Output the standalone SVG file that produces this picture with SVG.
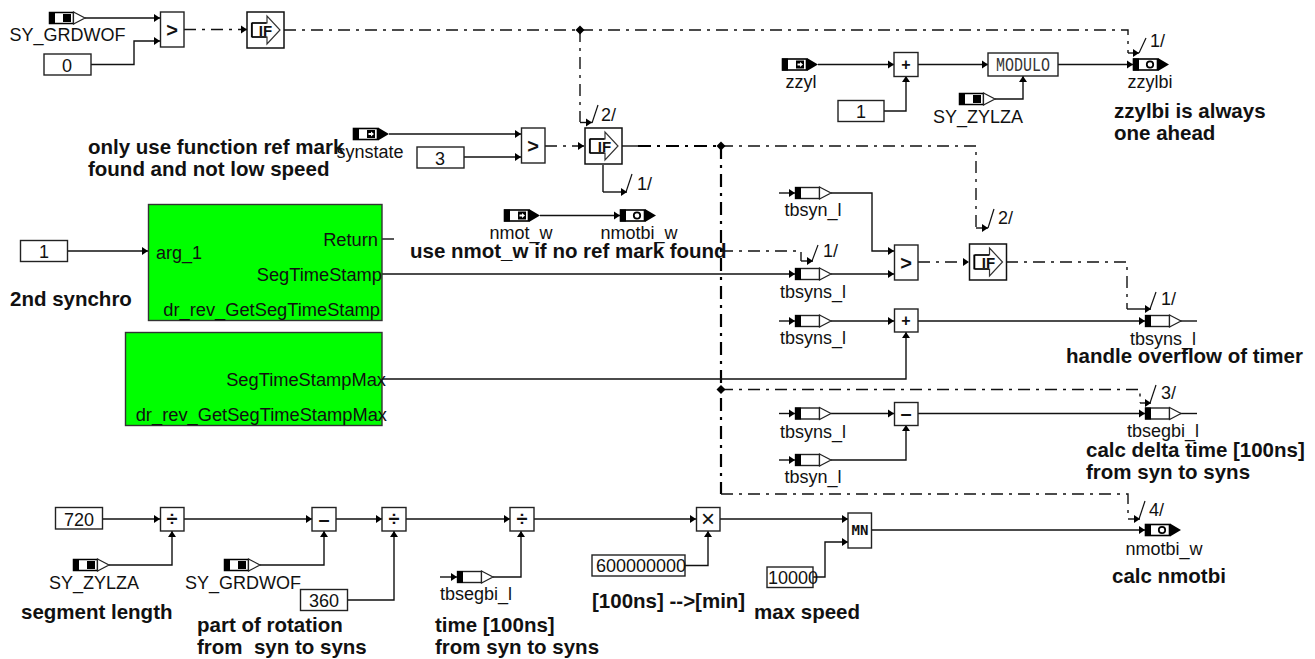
<svg xmlns="http://www.w3.org/2000/svg" width="1315" height="659" viewBox="0 0 1315 659">
<style>
text{font-family:"Liberation Sans",Arial,sans-serif;fill:#111}
.l{font-size:18px}
.c{font-size:18px;text-anchor:middle}
.r{font-size:18.3px;text-anchor:end}
.b{font-size:20.5px;font-weight:bold}
.op{font-size:20px;font-weight:bold;text-anchor:middle}
.pl{font-size:16px;font-weight:bold;text-anchor:middle}
.if{font-size:15px;font-weight:bold;text-anchor:middle}
.w{fill:none;stroke:#111;stroke-width:1.4}
.d{fill:none;stroke:#111;stroke-width:1.4;stroke-dasharray:12 6 3 6}
.t{fill:none;stroke:#000;stroke-width:2.2;stroke-dasharray:13 6 3 6}
.a{marker-end:url(#ah)}
.box{fill:#fff;stroke:#222;stroke-width:1.4}
.green{fill:#00ff00;stroke:#333;stroke-width:1.4}
.tick{fill:none;stroke:#111;stroke-width:1.2}
</style>
<defs>
<marker id="ah" markerUnits="userSpaceOnUse" markerWidth="7" markerHeight="9" refX="6" refY="4.5" orient="auto"><path d="M0,0.5 L6,4.5 L0,8.5z" fill="#000"/></marker>
<g id="cin"><rect x="0.5" y="-5.5" width="24" height="11" fill="#fff" stroke="#000" stroke-width="1.5"/><rect x="0" y="-6" width="6" height="12" fill="#000"/><rect x="14" y="-4" width="8" height="8" fill="#000"/><path d="M24.5,-6 L36,0 L24.5,6z" fill="#fff" stroke="#222" stroke-width="1.2"/></g>
<g id="vin"><rect x="0.5" y="-5.5" width="24" height="11" fill="#fff" stroke="#000" stroke-width="1.6"/><rect x="0" y="-6" width="6" height="12" fill="#000"/><rect x="14" y="-4" width="8" height="8" fill="#000"/><path d="M15.5,-1 L18,-1 L18,-2.5 L21,0 L18,2.5 L18,1 L15.5,1z" fill="#fff"/><path d="M25,-6.5 L36,0 L25,6.5z" fill="#000"/></g>
<g id="vout"><rect x="0.5" y="-5.5" width="24" height="11" fill="#fff" stroke="#000" stroke-width="1.6"/><rect x="0" y="-6" width="6" height="12" fill="#000"/><circle cx="17" cy="0" r="3.2" fill="#fff" stroke="#000" stroke-width="1.8"/><path d="M25,-6.5 L36,0 L25,6.5z" fill="#000"/></g>
<g id="sig"><rect x="0.5" y="-5.5" width="24" height="11" fill="#fff" stroke="#222" stroke-width="1.4"/><rect x="0" y="-6" width="6" height="12" fill="#000"/><path d="M24.5,-6 L36,0 L24.5,6z" fill="#fff" stroke="#222" stroke-width="1.2"/></g>
<g id="ifa"><rect x="0.5" y="0.5" width="37" height="36" fill="#fff" stroke="#111" stroke-width="1.5"/><path d="M5,11.5 L20.5,11.5 L20.5,4.5 L33.5,18.5 L20.5,32.5 L20.5,25.5 L5,25.5z" fill="#fff" stroke="#333" stroke-width="1.2"/><path d="M5.5,11.5 V25.5 M5.5,11.5 H20 M5.5,25.5 H20" fill="none" stroke="#000" stroke-width="1.6"/></g>
</defs>
<g id="connectors">
<path class="w a" d="M85,18 H160"/>
<path class="w a" d="M91,64.5 H134 V41 H160"/>
<path class="d a" d="M184,29.5 H247"/>
<path class="d" d="M284,30 H1128 V53"/>
<path class="w a" d="M1128,53 H1139"/>
<path class="tick" d="M1139,53 L1146,38"/>
<path class="d" d="M580,30 V122"/>
<path class="w a" d="M580,122.500 H592"/>
<path class="tick" d="M592,123 L598,105"/>
<path class="w a" d="M389,134 H521"/>
<path class="w a" d="M464,157 H521"/>
<path class="d a" d="M545,146 H584"/>
<path class="w" d="M622,146 H638"/>
<path class="t" d="M638,146 H721"/>
<path class="d" d="M721,146 H976 V228"/>
<path class="w a" d="M976,228 H988"/>
<path class="tick" d="M988,228 L994,209"/>
<path class="w" d="M603,165 V192"/>
<path class="w a" d="M603,192 H627"/>
<path class="tick" d="M626,192 L632,174"/>
<path class="t" d="M721,146 V494"/>
<path class="d" d="M721,251 H801 V261"/>
<path class="w a" d="M801,261 H813"/>
<path class="tick" d="M812,261 L818,245"/>
<path class="w a" d="M67,251 H148"/>
<path class="w" d="M382,239 H394"/>
<path class="w a" d="M382,274 H795"/>
<path class="w a" d="M779,193 H795"/>
<path class="w a" d="M831,193 H872 V251 H894"/>
<path class="w a" d="M831,274 H894"/>
<path class="d a" d="M918,262 H969"/>
<path class="d" d="M1006,262 H1127 V309"/>
<path class="w a" d="M1127,309 H1151"/>
<path class="tick" d="M1150,309 L1156,292"/>
<path class="w a" d="M779,321 H795"/>
<path class="w a" d="M831,321 H894"/>
<path class="w a" d="M918,321 H1145"/>
<path class="w" d="M1180,321 H1197"/>
<path class="w a" d="M382,379 H906 V332"/>
<path class="d" d="M721,389.500 H1140 V403"/>
<path class="w a" d="M1140,403 H1151"/>
<path class="tick" d="M1150,403 L1156,385"/>
<path class="w a" d="M779,413.500 H795"/>
<path class="w a" d="M831,413.500 H894"/>
<path class="w a" d="M779,460 H795"/>
<path class="w a" d="M831,460 H906 V425"/>
<path class="w a" d="M918,413.500 H1145"/>
<path class="w" d="M1180,413.500 H1197"/>
<path class="d" d="M721,494 H1128 V519"/>
<path class="w a" d="M1128,519 H1140"/>
<path class="tick" d="M1139,519 L1145,501"/>
<path class="w a" d="M872,530 H1145"/>
<path class="w a" d="M818,64.500 H894"/>
<path class="w a" d="M884,111 H906 V76"/>
<path class="w a" d="M918,64.500 H988"/>
<path class="w a" d="M1058,64.500 H1133"/>
<path class="w a" d="M995,99 H1023 V76"/>
<path class="w a" d="M540,215.500 H620"/>
<path class="w a" d="M102,519 H160"/>
<path class="w a" d="M109,565 H172 V531"/>
<path class="w a" d="M184,519 H312"/>
<path class="w a" d="M260,565 H324 V531"/>
<path class="w a" d="M336,519 H382"/>
<path class="w a" d="M347,600 H394 V531"/>
<path class="w a" d="M406,519 H510"/>
<path class="w a" d="M440,577 H457"/>
<path class="w a" d="M493,577 H521 V531"/>
<path class="w a" d="M534,519 H696"/>
<path class="w a" d="M685,565.500 H708 V531"/>
<path class="w a" d="M720,519 H848"/>
<path class="w a" d="M813,577 H825 V542 H848"/>
</g>
<g id="junctions" fill="#000">
<path d="M580,25.500 L584.500,30 L580,34.500 L575.500,30z"/>
<path d="M721,141.500 L725.500,146 L721,150.500 L716.500,146z"/>
<path d="M721,385 L725.500,389.500 L721,394 L716.500,389.500z"/>
</g>
<g id="in_SY_GRDWOF_1"><use href="#cin" x="49" y="18"/><text class="c" x="67.500" y="41">SY_GRDWOF</text></g>
<g id="const_0"><rect class="box" x="44" y="54" width="47" height="21"/><text class="c" x="67" y="72">0</text></g>
<g id="gt_1"><rect class="box" x="160.500" y="12" width="23.500" height="35"/><text class="op" x="172" y="37">&gt;</text></g>
<g id="if_1"><use href="#ifa" x="246.500" y="11.500"/><text class="if" x="265.500" y="36">IF</text></g>
<g id="in_zzyl"><use href="#vin" x="782" y="64.500"/><text class="c" x="801" y="88">zzyl</text></g>
<g id="const_1_a"><rect class="box" x="838" y="100.500" width="46" height="21"/><text class="c" x="861" y="118">1</text></g>
<g id="plus_1"><rect class="box" x="894" y="52.500" width="24" height="24"/><text class="pl" x="906" y="70">+</text></g>
<g id="modulo"><rect class="box" x="988" y="53" width="70" height="23"/><text transform="translate(1023,71) scale(1,1.35)" text-anchor="middle" style="font-family:'Liberation Mono',monospace;font-size:15px;fill:#333">MODULO</text></g>
<g id="in_SY_ZYLZA_1"><use href="#cin" x="959" y="99"/><text class="c" x="978" y="123">SY_ZYLZA</text></g>
<g id="out_zzylbi"><use href="#vout" x="1133" y="64.500"/><text class="c" x="1150" y="88">zzylbi</text><text class="l" x="1150" y="47">1/</text></g>
<g id="in_synstate"><use href="#vin" x="353" y="134"/><text class="c" x="370" y="158">synstate</text></g>
<g id="const_3"><rect class="box" x="417" y="147" width="47" height="21"/><text class="c" x="440" y="165">3</text></g>
<g id="gt_2"><rect class="box" x="521.500" y="128" width="23.500" height="35"/><text class="op" x="533" y="153">&gt;</text></g>
<g id="if_2"><use href="#ifa" x="584.500" y="127.500"/><text class="if" x="604.500" y="152">IF</text><text class="l" x="601" y="121">2/</text><text class="l" x="637" y="190">1/</text></g>
<g id="const_1_b"><rect class="box" x="20.500" y="240.500" width="47" height="21"/><text class="c" x="44" y="258">1</text></g>
<g id="dr_rev_GetSegTimeStamp"><rect class="green" x="148.500" y="204.500" width="233.500" height="116"/><text class="l" x="156" y="259">arg_1</text><text class="r" x="378" y="246">Return</text><text class="r" x="382" y="281">SegTimeStamp</text><text class="r" x="380" y="316">dr_rev_GetSegTimeStamp</text></g>
<g id="dr_rev_GetSegTimeStampMax"><rect class="green" x="125.500" y="332.500" width="256.500" height="93"/><text class="r" x="386" y="386">SegTimeStampMax</text><text class="r" x="387" y="421">dr_rev_GetSegTimeStampMax</text></g>
<g id="in_nmot_w"><use href="#vin" x="504" y="215.500"/><text class="c" x="521" y="239">nmot_w</text></g>
<g id="out_nmotbi_w_a"><use href="#vout" x="620" y="215.500"/><text class="c" x="639" y="239">nmotbi_w</text></g>
<g id="sig_tbsyn_l_a"><use href="#sig" x="795" y="193"/><text class="c" x="813" y="216">tbsyn_l</text></g>
<g id="sig_tbsyns_l_a"><use href="#sig" x="795" y="274"/><text class="c" x="813" y="298">tbsyns_l</text><text class="l" x="823" y="257">1/</text></g>
<g id="gt_3"><rect class="box" x="894.500" y="245" width="23.500" height="35"/><text class="op" x="906" y="270">&gt;</text></g>
<g id="if_3"><use href="#ifa" x="969" y="243.500"/><text class="if" x="988.500" y="268">IF</text><text class="l" x="998" y="224">2/</text></g>
<g id="sig_tbsyns_l_b"><use href="#sig" x="795" y="321"/><text class="c" x="813" y="344">tbsyns_l</text></g>
<g id="plus_2"><rect class="box" x="894.500" y="309" width="23.500" height="23"/><text class="pl" x="906" y="326">+</text></g>
<g id="sig_tbsyns_l_c"><use href="#sig" x="1145" y="321"/><text class="c" x="1163" y="345">tbsyns_l</text><text class="l" x="1161" y="305">1/</text></g>
<g id="sig_tbsyns_l_d"><use href="#sig" x="795" y="413.500"/><text class="c" x="813" y="438">tbsyns_l</text></g>
<g id="sig_tbsyn_l_b"><use href="#sig" x="795" y="460"/><text class="c" x="813" y="483">tbsyn_l</text></g>
<g id="minus_1"><rect class="box" x="894.500" y="402.500" width="23.500" height="23"/><text class="op" x="906" y="420">–</text></g>
<g id="sig_tbsegbi_l"><use href="#sig" x="1145" y="413.500"/><text class="c" x="1163" y="437">tbsegbi_l</text><text class="l" x="1161" y="399">3/</text></g>
<g id="const_720"><rect class="box" x="55.500" y="507.500" width="47" height="21.500"/><text class="c" x="79" y="526">720</text></g>
<g id="div_1"><rect class="box" x="160.500" y="507.500" width="23.500" height="23.500"/><text class="op" x="172" y="526">÷</text></g>
<g id="in_SY_ZYLZA_2"><use href="#cin" x="73" y="565"/><text class="c" x="94" y="589">SY_ZYLZA</text></g>
<g id="minus_2"><rect class="box" x="312" y="507.500" width="24" height="23.500"/><text class="op" x="324" y="526">–</text></g>
<g id="in_SY_GRDWOF_2"><use href="#cin" x="224" y="565"/><text class="c" x="243" y="589">SY_GRDWOF</text></g>
<g id="div_2"><rect class="box" x="382" y="507.500" width="24" height="23.500"/><text class="op" x="394" y="526">÷</text></g>
<g id="const_360"><rect class="box" x="300.500" y="589.500" width="47" height="21"/><text class="c" x="324" y="607">360</text></g>
<g id="div_3"><rect class="box" x="510" y="507.500" width="24" height="23.500"/><text class="op" x="522" y="526">÷</text></g>
<g id="sig_tbsegbi_l_b"><use href="#sig" x="457" y="577"/><text class="c" x="476" y="600">tbsegbi_l</text></g>
<g id="mul_1"><rect class="box" x="696.500" y="507.500" width="23.500" height="23.500"/><text x="708" y="527" text-anchor="middle" style="font-size:24px">×</text></g>
<g id="const_600000000"><rect class="box" x="592" y="555" width="93" height="21"/><text class="l" x="596" y="572">600000000</text></g>
<g id="min_1"><rect class="box" x="848" y="513" width="23.500" height="35"/><text x="860" y="535" text-anchor="middle" style="font-family:'DejaVu Sans Mono',monospace;font-size:14px;font-weight:bold">MN</text></g>
<g id="const_10000"><rect class="box" x="767" y="567" width="46" height="20.500"/><text class="l" x="768" y="584">10000</text></g>
<g id="out_nmotbi_w_b"><use href="#vout" x="1145" y="530"/><text class="c" x="1164" y="555">nmotbi_w</text><text class="l" x="1149" y="516">4/</text></g>
<g id="notes">
<text class="b" x="1114" y="118">zzylbi is always</text>
<text class="b" x="1114" y="140">one ahead</text>
<text class="b" x="88" y="154">only use function ref mark</text>
<text class="b" x="88" y="176">found and not low speed</text>
<text class="b" x="410" y="258">use nmot_w if no ref mark found</text>
<text class="b" x="10" y="306">2nd synchro</text>
<text class="b" x="1066" y="363">handle overflow of timer</text>
<text class="b" x="1086" y="457">calc delta time [100ns]</text>
<text class="b" x="1086" y="479">from syn to syns</text>
<text class="b" x="1112" y="583">calc nmotbi</text>
<text class="b" x="21" y="619">segment length</text>
<text class="b" x="197" y="632">part of rotation</text>
<text class="b" x="197" y="654" xml:space="preserve">from  syn to syns</text>
<text class="b" x="435" y="632">time [100ns]</text>
<text class="b" x="435" y="654">from syn to syns</text>
<text class="b" x="592" y="608">[100ns] --&gt;[min]</text>
<text class="b" x="754" y="619">max speed</text>
</g>
</svg>
